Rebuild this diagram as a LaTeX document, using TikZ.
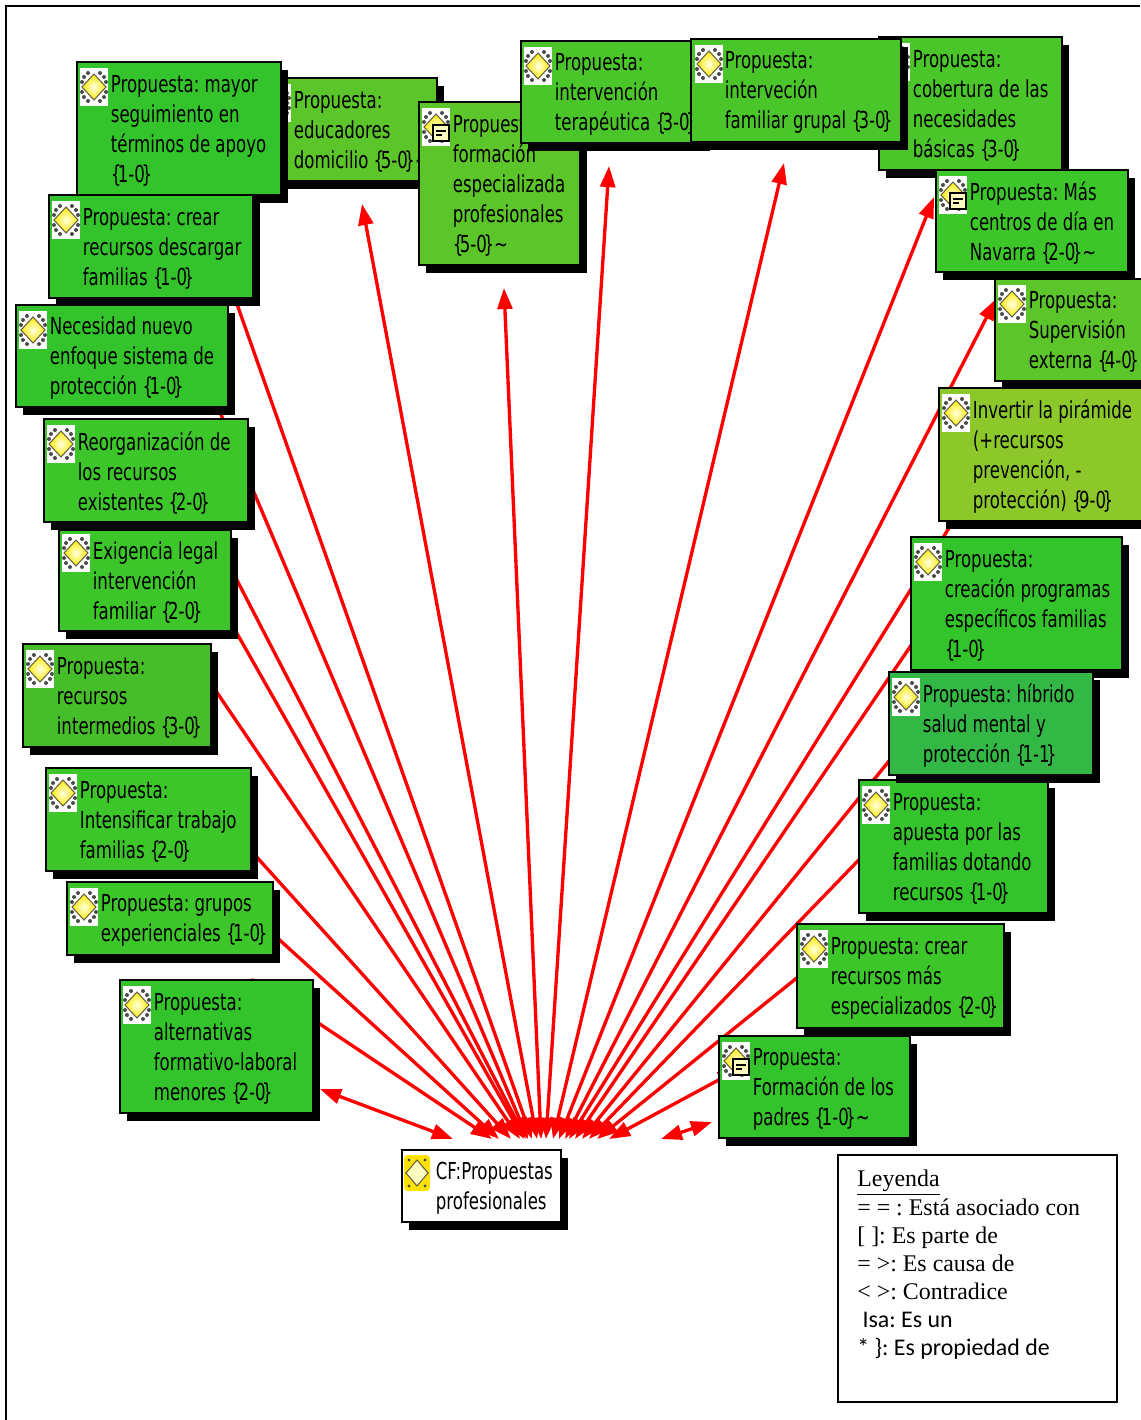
\documentclass[tikz,border=0pt]{standalone}
\usepackage{fontspec}
\setmainfont{Liberation Serif}
\newfontfamily\cajafont[FakeStretch=0.71]{DejaVu Sans}
\newfontfamily\notafont{Carlito}
\usetikzlibrary{arrows.meta,backgrounds,shadows}
\definecolor{verdeA}{HTML}{33C42B}
\definecolor{verdeB}{HTML}{3CC62A}
\definecolor{verdeC}{HTML}{4BC62A}
\definecolor{verdeD}{HTML}{5CC52A}
\definecolor{verdeE}{HTML}{8CC82A}
\definecolor{verdeF}{HTML}{33B845}
\definecolor{verdeG}{HTML}{46BE2A}
\newcommand{\cuenta}[1]{\{\kern-2pt#1\kern-2pt\}}
\tikzset{
    caja/.style n args={3}{rectangle, draw=black, line width=1pt, fill=#3, anchor=north west,
        inner sep=0pt, minimum height=#2*0.02cm, text width=#1*0.02cm, align=left,
        font=\fontsize{13.3pt}{17.1pt}\selectfont\cajafont,
        execute at begin node={\leftskip=19.35pt\rightskip=-60pt plus 1fil\spaceskip=3pt},
        execute at end node={\par\vspace{-2.6pt}},
        general shadow={shadow xshift=4pt, shadow yshift=-4.4pt, fill=black}},
    flecha/.style={<->, >={Triangle[length=12pt,width=8.5pt]}, red, line width=1.9pt},
    nudo/.style={fill=black!70},
    icono/.pic={
        \fill[white] (0,0) rectangle (28,38);
        \foreach \a/\b in {8/5,4/9,2/14,20/5,24/9,26/14,2/24,4/29,8/33,26/24,24/29,20/33}
            \fill[nudo] (\a,\b) circle (2);
        \draw[black!70!yellow, inner color=yellow!10, outer color=yellow!85!orange, line width=0.6pt]
            (14,6) -- (26,19) -- (14,32) -- (2,19) -- cycle;
    },
    iconota/.pic={
        \pic {icono};
        \draw[black, fill=yellow!25!white, line width=0.9pt] (11,17) rectangle (27,33);
        \draw[black, line width=0.7pt] (14,23) -- (24,23) (14,27) -- (20,27);
    },
    iconocf/.pic={
        \fill[yellow!85!orange, rounded corners=2pt] (0,0) rectangle (26,36);
        \foreach \a/\b in {5/5,21/5,5/31,21/31,3/18,23/18}
            \fill[nudo] (\a,\b) circle (1.7);
        \draw[black!70!yellow, fill=yellow!25, line width=0.6pt]
            (13,5) -- (24,18) -- (13,31) -- (2,18) -- cycle;
    }
}
\begin{document}
\frenchspacing
\begin{tikzpicture}[x=0.02cm,y=-0.02cm]
    \useasboundingbox (1,1) rectangle (1141,1421);
    \draw[line width=1.1pt] (7,1421) -- (7,7) -- (1141,7);

    % lado izquierdo
    \node[caja={177}{103}{verdeD}] (educadores) at (260,78) {Propuesta:\\educadores\\domicilio \cuenta{5-0}\textasciitilde};
    \pic at ([shift={(4,7)}]educadores.north west) {icono};
    \node[caja={204}{133}{verdeA}] (mayor) at (77,62) {Propuesta: mayor\\seguimiento en\\términos de apoyo\\\cuenta{1-0}};
    \pic at ([shift={(4,7)}]mayor.north west) {icono};
    \node[caja={212}{102}{verdeA}] (necesidad) at (16,305) {Necesidad nuevo\\enfoque sistema de\\protección \cuenta{1-0}};
    \pic at ([shift={(4,7)}]necesidad.north west) {icono};
    \node[caja={204}{103}{verdeA}] (descargar) at (49,195) {Propuesta: crear\\recursos descargar\\familias \cuenta{1-0}};
    \pic at ([shift={(4,7)}]descargar.north west) {icono};
    \node[caja={172}{101}{verdeB}] (exigencia) at (59,530) {Exigencia legal\\intervención\\familiar \cuenta{2-0}};
    \pic at ([shift={(4,5)}]exigencia.north west) {icono};
    \node[caja={204}{103}{verdeB}] (reorganizacion) at (44,419) {Reorganización de\\los recursos\\existentes \cuenta{2-0}};
    \pic at ([shift={(4,7)}]reorganizacion.north west) {icono};
    \node[caja={188}{103}{verdeG}] (intermedios) at (23,644) {Propuesta:\\recursos\\intermedios \cuenta{3-0}};
    \pic at ([shift={(4,7)}]intermedios.north west) {icono};
    \node[caja={205}{103}{verdeB}] (intensificar) at (46,768) {Propuesta:\\Intensificar trabajo\\familias \cuenta{2-0}};
    \pic at ([shift={(4,7)}]intensificar.north west) {icono};
    \node[caja={206}{73}{verdeB}] (grupos) at (67,882) {Propuesta: grupos\\experienciales \cuenta{1-0}};
    \pic at ([shift={(4,7)}]grupos.north west) {icono};
    \node[caja={193}{133}{verdeA}] (alternativas) at (120,980) {Propuesta:\\alternativas\\formativo-laboral\\menores \cuenta{2-0}};
    \pic at ([shift={(4,7)}]alternativas.north west) {icono};

    % arriba
    \node[caja={161}{163}{verdeD}] (formacion) at (419,102) {Propuesta:\\formación\\especializada\\profesionales\\\cuenta{5-0}\textasciitilde};
    \pic at ([shift={(4,7)}]formacion.north west) {iconota};
    \node[caja={183}{133}{verdeC}] (cobertura) at (879,37) {Propuesta:\\cobertura de las\\necesidades\\básicas \cuenta{3-0}};
    \pic at ([shift={(4,7)}]cobertura.north west) {icono};
    \node[caja={182}{102}{verdeC}] (terapeutica) at (521,41) {Propuesta:\\intervención\\terapéutica \cuenta{3-0}};
    \pic at ([shift={(4,7)}]terapeutica.north west) {icono};
    \node[caja={210}{103}{verdeC}] (familiar) at (691,39) {Propuesta:\\interveción\\familiar grupal \cuenta{3-0}};
    \pic at ([shift={(5,7)}]familiar.north west) {icono};

    % lado derecho
    \node[caja={150}{102}{verdeD}] (supervision) at (995,279) {Propuesta:\\Supervisión\\externa \cuenta{4-0}};
    \pic at ([shift={(4,7)}]supervision.north west) {icono};
    \node[caja={192}{102}{verdeB}] (mascentros) at (936,170) {Propuesta: Más\\centros de día en\\Navarra \cuenta{2-0}\textasciitilde};
    \pic at ([shift={(4,7)}]mascentros.north west) {iconota};
    \node[caja={206}{133}{verdeE}] (invertir) at (939,388) {Invertir la pirámide\\(+recursos\\prevención, -\\protección) \cuenta{9-0}};
    \pic at ([shift={(4,7)}]invertir.north west) {icono};
    \node[caja={211}{133}{verdeA}] (creacion) at (911,537) {Propuesta:\\creación programas\\específicos familias\\\cuenta{1-0}};
    \pic at ([shift={(4,7)}]creacion.north west) {icono};
    \node[caja={189}{133}{verdeA}] (apuesta) at (859,780) {Propuesta:\\apuesta por las\\familias dotando\\recursos \cuenta{1-0}};
    \pic at ([shift={(4,7)}]apuesta.north west) {icono};
    \node[caja={204}{103}{verdeF}] (hibrido) at (889,672) {Propuesta: híbrido\\salud mental y\\protección \cuenta{1-1}};
    \pic at ([shift={(4,7)}]hibrido.north west) {icono};
    \node[caja={207}{104}{verdeB}] (crearmas) at (797,924) {Propuesta: crear\\recursos más\\especializados \cuenta{2-0}};
    \pic at ([shift={(4,7)}]crearmas.north west) {icono};
    \node[caja={191}{102}{verdeA}] (padres) at (719,1036) {Propuesta:\\Formación de los\\padres \cuenta{1-0}\textasciitilde};
    \pic at ([shift={(4,7)}]padres.north west) {iconota};

    \node[caja={159}{72}{white}] (cf) at (402,1150) {CF:Propuestas\\profesionales};
    \pic at ([shift={(3,6)}]cf.north west) {iconocf};

    % flechas por debajo de las cajas
    \begin{scope}[on background layer]
        \foreach \dest/\ax/\ay/\bx in {alternativas/132/-1/91, alternativas/201/110/52, grupos/153/4/98,
            intensificar/154/26/110, intermedios/177/23/119, exigencia/156/64/123, reorganizacion/152/81/125,
            necesidad/193/80/127, descargar/166/45/131, educadores/103/127/136, formacion/86/187/140,
            terapeutica/89/126/145, familiar/94/125/152, mascentros/-1/28/158, supervision/2/21/164,
            invertir/29/112/168, creacion/19/83/174, hibrido/27/58/181, apuesta/21/60/188,
            crearmas/23/37/196, padres/21/34/208, padres/-6/87/260}
            \draw[flecha] ([shift={(\bx,-10)}]cf.north west) -- ([shift={(\ax,\ay)}]\dest.north west);
    \end{scope}

    % leyenda
    \node[draw, line width=1pt, anchor=north west, minimum width=279*0.02cm, minimum height=247*0.02cm] (leyenda) at (838,1155) {};
    \node[anchor=north west, inner sep=0pt, align=left, font=\fontsize{13.6pt}{16pt}\selectfont] (leyendatexto) at ([shift={(20,16)}]leyenda.north west)
        {\underline{Leyenda}\\= = : Está asociado con\\{[} ]: Es parte de\\= >: Es causa de\\< >: Contradice\\{\notafont\hspace{3pt}Isa: Es un}\\{\notafont * {\}}: Es propiedad de}};
\end{tikzpicture}
\end{document}
